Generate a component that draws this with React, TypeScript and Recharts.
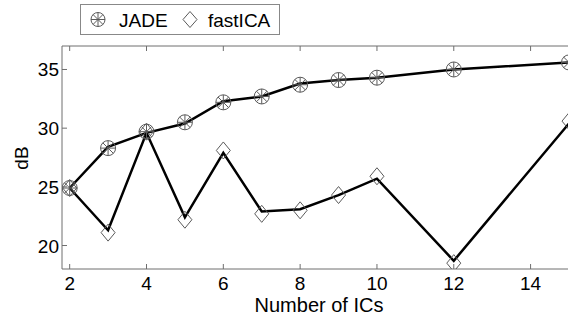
import React from 'react';
import { LineChart, Line, XAxis, YAxis } from 'recharts';

const ics = [2, 3, 4, 5, 6, 7, 8, 9, 10, 12, 15];
const jadeLine = [24.9, 28.4, 29.6, 30.4, 32.3, 32.7, 33.8, 34.1, 34.3, 35.0, 35.6];
const jadeMarker = [24.9, 28.3, 29.7, 30.5, 32.2, 32.7, 33.7, 34.1, 34.3, 35.0, 35.6];
const fastLine = [24.9, 21.3, 29.6, 22.4, 27.9, 22.9, 23.1, 24.3, 25.7, 18.7, 30.4];
const fastMarker = [24.9, 21.1, 29.7, 22.2, 28.1, 22.7, 23.0, 24.3, 25.9, 18.5, 30.6];
const xTicks = [2, 4, 6, 8, 10, 12, 14];
const yTicks = [20, 25, 30, 35];
const seriesNames = ['JADE', 'fastICA'];

const data = ics.map((x, i) => ({
  x,
  jadeLine: jadeLine[i],
  jadeMarker: jadeMarker[i],
  fastLine: fastLine[i],
  fastMarker: fastMarker[i],
}));

const FONT = '"Liberation Sans", Arial, sans-serif';
const AXIS = '#6e6e6e';
const MARK = '#5a5a5a';

const JadeShape = ({ cx, cy, r = 7.5 }: any) => {
  const d = r * 0.7071;
  return (
    <g stroke={MARK} strokeWidth={1} fill="none">
      <circle cx={cx} cy={cy} r={r} />
      <line x1={cx - r} y1={cy} x2={cx + r} y2={cy} />
      <line x1={cx} y1={cy - r} x2={cx} y2={cy + r} />
      <line x1={cx - d} y1={cy - d} x2={cx + d} y2={cy + d} />
      <line x1={cx - d} y1={cy + d} x2={cx + d} y2={cy - d} />
    </g>
  );
};

const DiamondShape = ({ cx, cy, w = 7, h = 8.5 }: any) => (
  <polygon
    points={`${cx},${cy - h} ${cx + w},${cy} ${cx},${cy + h} ${cx - w},${cy}`}
    stroke={MARK}
    strokeWidth={1}
    fill="none"
  />
);

const renderJade = (p: any) => <JadeShape key={`j${p.index}`} cx={p.cx} cy={p.cy} />;
const renderDiamond = (p: any) => <DiamondShape key={`d${p.index}`} cx={p.cx} cy={p.cy} />;

const BottomTick = (p: any) => (
  <g>
    <line x1={p.x} x2={p.x} y1={p.y} y2={p.y - 5} stroke={AXIS} strokeWidth={1} />
    <text x={p.x} y={p.y + 21} textAnchor="middle" fontSize={19} fontFamily={FONT} fill="#000">
      {p.payload.value}
    </text>
  </g>
);

const TopTick = (p: any) => (
  <g>
    <line x1={p.x} x2={p.x} y1={p.y} y2={p.y + 5} stroke={AXIS} strokeWidth={1} />
  </g>
);

const LeftTick = (p: any) => (
  <g>
    <line x1={p.x} x2={p.x + 5} y1={p.y} y2={p.y} stroke={AXIS} strokeWidth={1} />
    <text x={p.x - 3} y={p.y + 7} textAnchor="end" fontSize={19} fontFamily={FONT} fill="#000">
      {p.payload.value}
    </text>
  </g>
);

export default function App() {
  return (
    <div style={{ position: 'absolute', left: 0, top: 0, width: 568, height: 321, overflow: 'hidden', background: '#fff' }}>
      <LineChart
        width={572}
        height={321}
        data={data}
        margin={{ top: 41, right: 3, bottom: 22, left: 2 }}
      >
        <XAxis
          dataKey="x"
          type="number"
          domain={[1.8, 15]}
          ticks={xTicks}
          allowDataOverflow
          height={30}
          tickSize={0}
          tickMargin={0}
          tick={<BottomTick />}
          axisLine={{ stroke: AXIS, strokeWidth: 1 }}
          tickLine={false}
        />
        <XAxis
          xAxisId="top"
          orientation="top"
          dataKey="x"
          type="number"
          domain={[1.8, 15]}
          ticks={xTicks}
          allowDataOverflow
          height={5}
          tickSize={0}
          tickMargin={0}
          tick={<TopTick />}
          axisLine={{ stroke: AXIS, strokeWidth: 1 }}
          tickLine={false}
        />
        <YAxis
          type="number"
          domain={[18, 37]}
          ticks={yTicks}
          allowDataOverflow
          width={60}
          tickSize={0}
          tickMargin={0}
          tick={<LeftTick />}
          axisLine={{ stroke: AXIS, strokeWidth: 1 }}
          tickLine={false}
        />
        <Line dataKey="jadeMarker" stroke="none" strokeWidth={0} dot={renderJade} activeDot={false} isAnimationActive={false} />
        <Line dataKey="fastMarker" stroke="none" strokeWidth={0} dot={renderDiamond} activeDot={false} isAnimationActive={false} />
        <Line dataKey="jadeLine" stroke="#000" strokeWidth={2.5} dot={false} activeDot={false} isAnimationActive={false} />
        <Line dataKey="fastLine" stroke="#000" strokeWidth={2.5} dot={false} activeDot={false} isAnimationActive={false} />
      </LineChart>

      <div style={{ position: 'absolute', left: 10, top: 158, width: 0, height: 0 }}>
        <svg width={40} height={40} style={{ position: 'absolute', left: -10, top: -20, overflow: 'visible' }}>
          <text x={21} y={20} transform="rotate(-90 21 20)" textAnchor="middle" dominantBaseline="central" fontSize={19} fontFamily={FONT} fill="#000">dB</text>
        </svg>
      </div>

      <div style={{ position: 'absolute', left: 0, top: 293, width: 568, height: 28 }}>
        <svg width={568} height={28}>
          <text x={319} y={18.5} textAnchor="middle" fontSize={20} fontFamily={FONT} fill="#000">Number of ICs</text>
        </svg>
      </div>

      <div style={{ position: 'absolute', left: 80, top: 4, width: 200, height: 31 }}>
        <svg width={200} height={31}>
          <rect x={0.5} y={0.5} width={199} height={30} fill="#fff" stroke="#888" strokeWidth={1} />
          <JadeShape cx={18} cy={15.5} r={7} />
          <text x={39} y={22.7} fontSize={19} fontFamily={FONT} fill="#000">{seriesNames[0]}</text>
          <DiamondShape cx={110} cy={15.5} w={7} h={8} />
          <text x={128} y={22.7} fontSize={19} fontFamily={FONT} fill="#000">{seriesNames[1]}</text>
        </svg>
      </div>
    </div>
  );
}
